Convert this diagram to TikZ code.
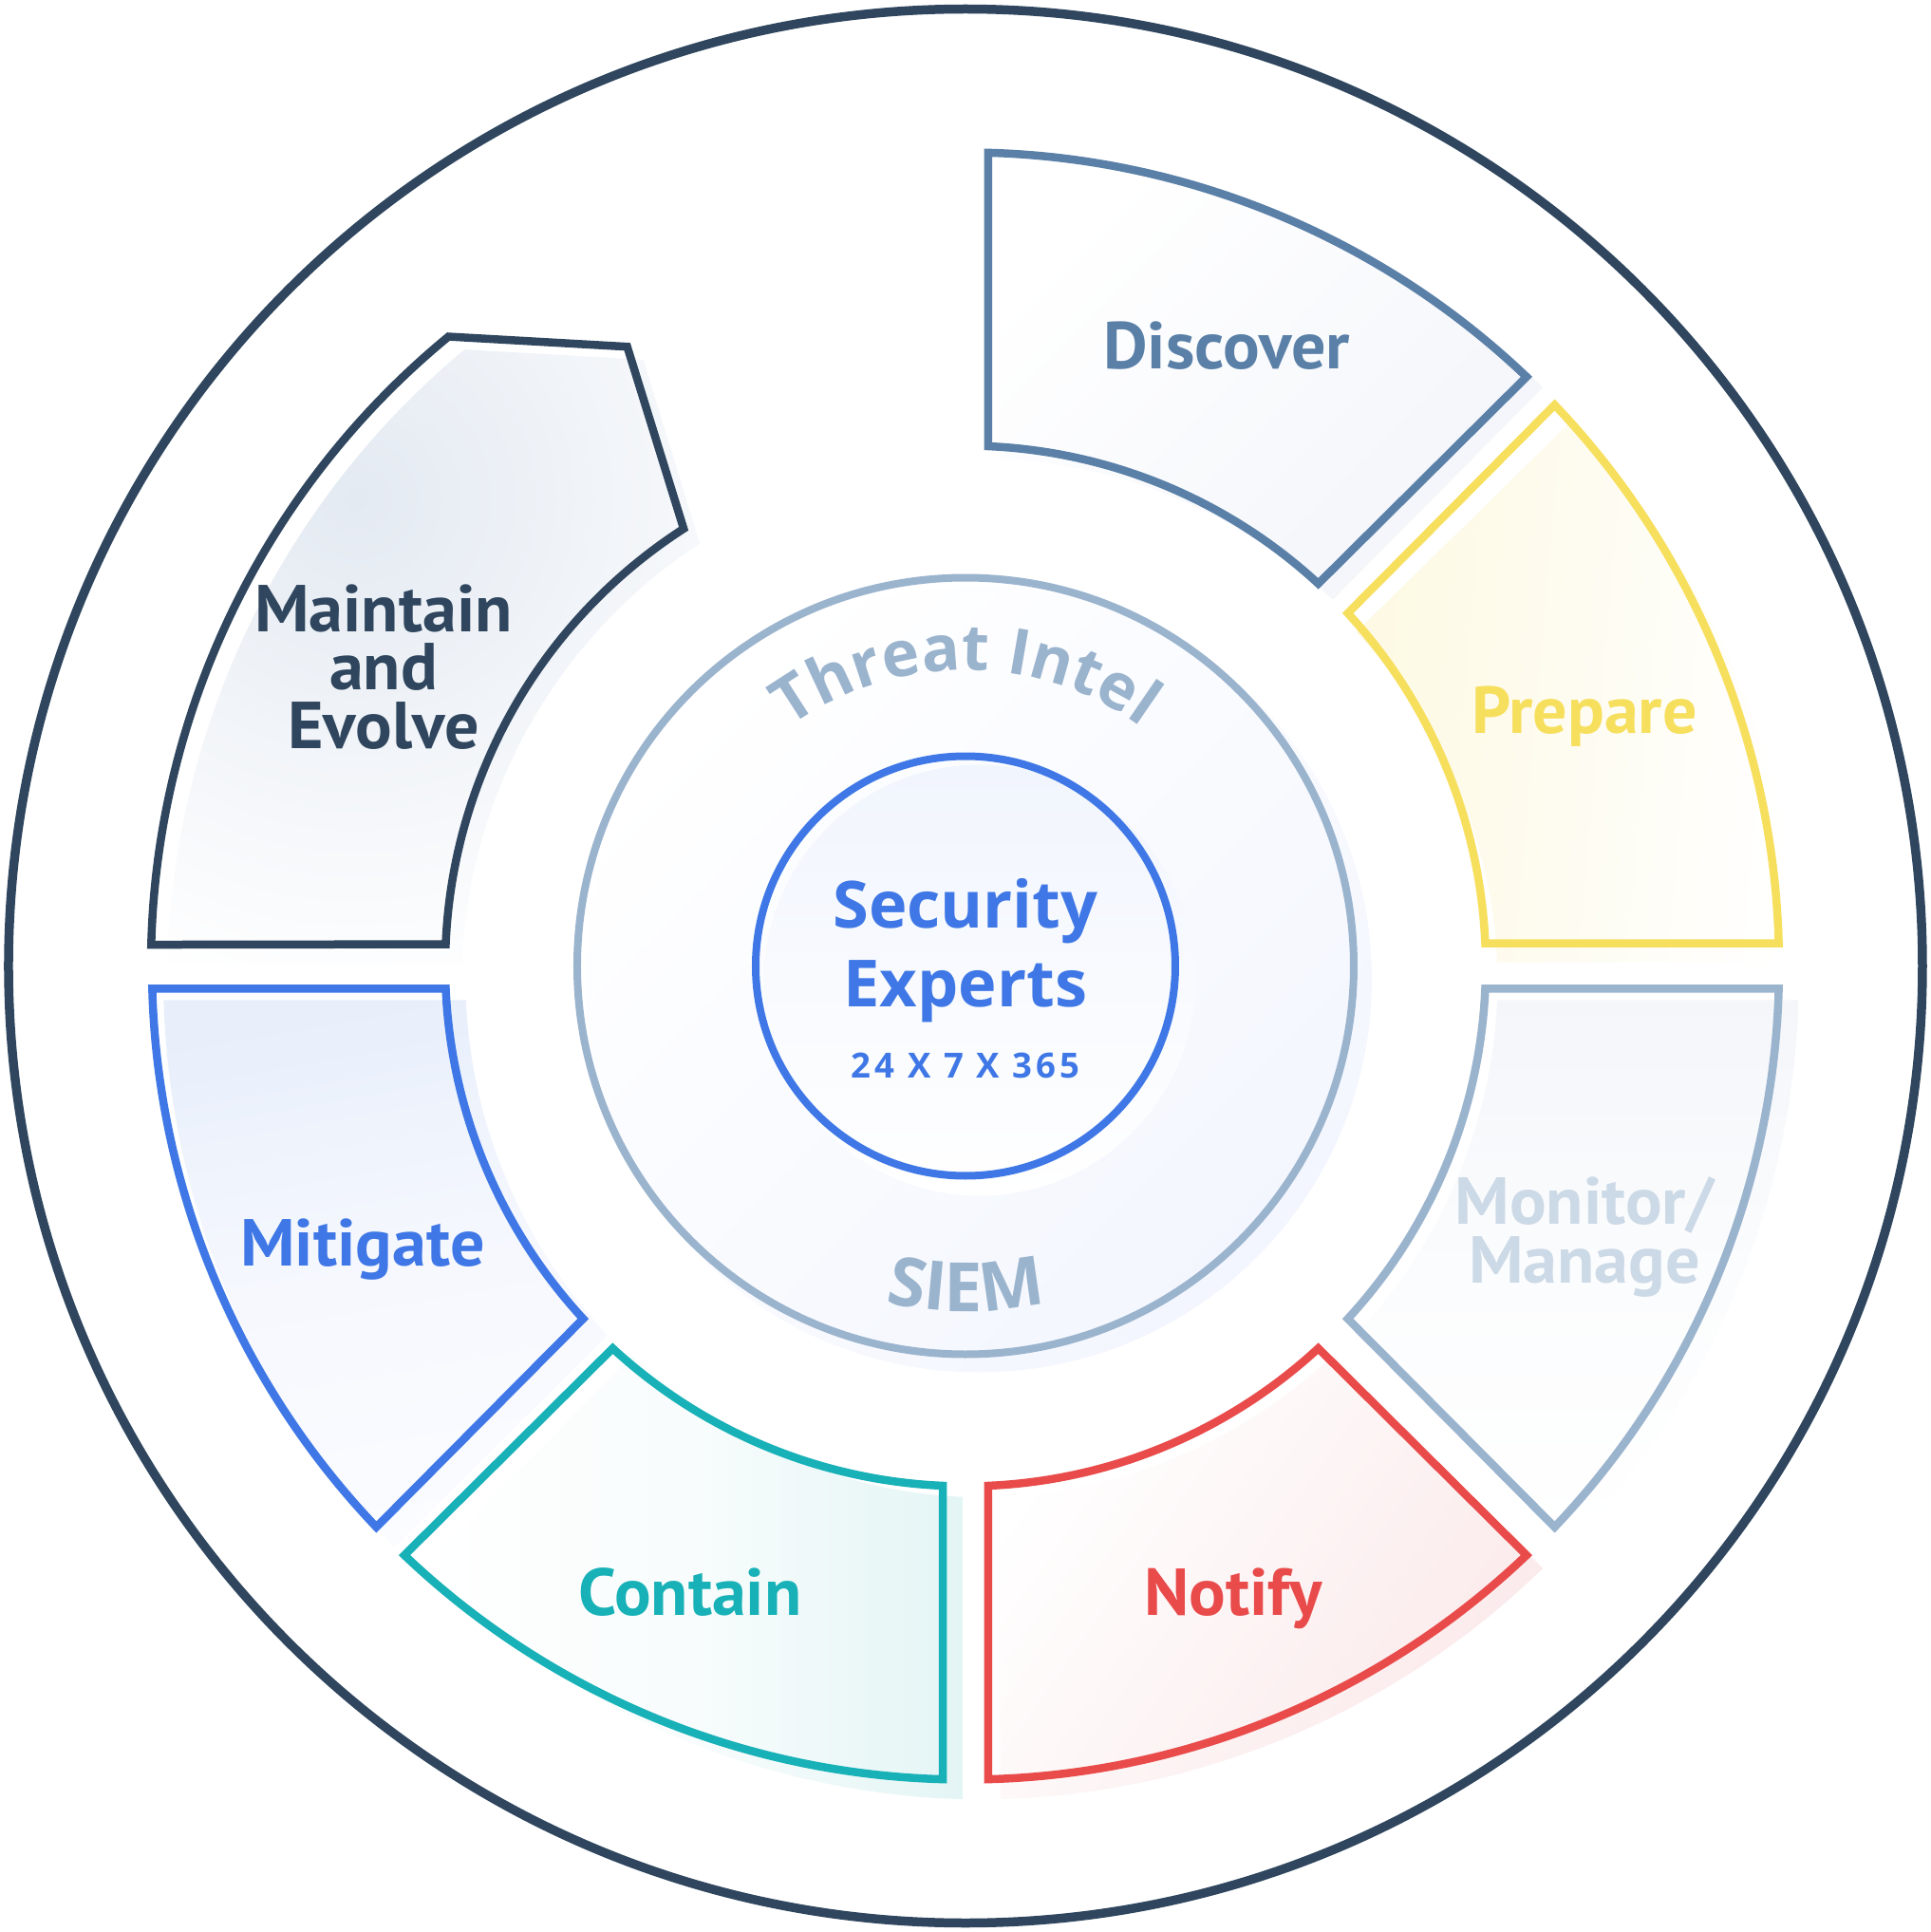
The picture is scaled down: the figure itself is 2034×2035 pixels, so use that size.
\documentclass[tikz,border=0pt]{standalone}
\usepackage{fontspec}
\usetikzlibrary{decorations.text}
\definecolor{Slate}{HTML}{2F465E}
\definecolor{Steel}{HTML}{5A80A8}
\definecolor{Yellow}{HTML}{F7DF5E}
\definecolor{Haze}{HTML}{9BB4CE}
\definecolor{Mist}{HTML}{CCD9E6}
\definecolor{Red}{HTML}{E94B4B}
\definecolor{Teal}{HTML}{17B1B7}
\definecolor{Blue}{HTML}{3F78E6}
\definecolor{SteelTint}{HTML}{F3F5FA}
\definecolor{YellowTint}{HTML}{FDF9E3}
\definecolor{HazeTint}{HTML}{F4F6FA}
\definecolor{HazeMid}{HTML}{FBFCFD}
\definecolor{RedTint}{HTML}{FBE9EA}
\definecolor{TealTint}{HTML}{E4F5F5}
\definecolor{TealMid}{HTML}{F8FCFC}
\definecolor{BlueTint}{HTML}{E8EFFB}
\definecolor{BlueMid}{HTML}{F6F8FE}
\definecolor{BlueFade}{HTML}{FBFCFF}
\definecolor{SlateTint}{HTML}{E4EAF2}
\definecolor{RingTint}{HTML}{F3F6FE}
\definecolor{CoreTint}{HTML}{F1F5FD}
\newfontfamily\stepfont{PT Sans}[FakeStretch=1.03]
\newfontfamily\openfont{Open Sans}
\newfontfamily\spacedfont{Open Sans}[LetterSpace=11]
\def\threat{\openfont\bfseries\fontsize{19.1}{21}\selectfont\color{Haze}}
\def\siem{\openfont\bfseries\fontsize{20.4}{22}\selectfont\color{Haze}}
\def\sector#1#2#3#4#5#6#7{
  \shade[#6, #7] (#1:857) arc[start angle=#1, end angle=#2, radius=857]
    -- (#3:548) arc[start angle=#3, end angle=#4, radius=548] -- cycle;
  \draw[stepLine, #5] (#1:857) arc[start angle=#1, end angle=#2, radius=857]
    -- (#3:548) arc[start angle=#3, end angle=#4, radius=548] -- cycle;
}

\begin{document}
\begin{tikzpicture}[
    x=0.1mm, y=0.1mm,
    stepLine/.style={draw, line width=0.85mm, line join=miter},
    ringLine/.style={line width=0.8mm},
    tinted/.style n args={3}{shading=axis, top color=#1, bottom color=#2, shading angle=#3},
    stepKey/.style={font=\stepfont\bfseries\fontsize{19.9}{17.5}\selectfont, align=center, inner sep=0},
    centerKey/.style={font=\openfont\bfseries\fontsize{19.5}{23.6}\selectfont, text=Blue, align=center, inner sep=0},
  ]
  \useasboundingbox[fill=white] (-1017,-1017.5) rectangle (1017,1017.5);
  % outer ring
  \draw[line width=0.95mm, Slate] (0,0) circle (1008);
  % sectors
  \sector{88.4}{46.4}{47.3}{87.5}{Steel}{tinted={SteelTint}{white}{-135}}{shift={(12.4,-27.3)}, xscale=1.008, yscale=1.026}
  \sector{43.6}{1.6}{2.5}{42.7}{Yellow}{tinted={YellowTint}{white}{85}}{shift={(-1.6,-20)}, xscale=1.026}
  \sector{-1.6}{-43.6}{-42.7}{-2.5}{Haze}{tinted={HazeTint}{white}{0}, middle color=HazeMid}{shift={(-1.6,-11.7)}, xscale=1.026, yscale=1.013}
  \sector{-46.4}{-88.4}{-87.5}{-47.3}{Red}{tinted={RedTint}{white}{-125}}{shift={(12.4,4.7)}, xscale=1.008, yscale=1.03}
  \sector{-91.6}{-133.6}{-132.7}{-92.5}{Teal}{tinted={TealTint}{white}{-90}, middle color=TealMid}{shift={(20.5,4.7)}, yscale=1.03}
  \sector{-136.4}{-178.4}{-177.5}{-137.3}{Blue}{tinted={BlueTint}{BlueFade}{10}, middle color=BlueMid}{shift={(37.7,-11.6)}, xscale=1.03, yscale=1.016}
  % maintain
  \begin{scope}
    \clip[shift={(17,-20.2)}, yscale=1.01] (178.5:858) arc[start angle=178.5, end angle=129.4, radius=858]
      -- (-356.3,652.3) -- (122.8:548) arc[start angle=122.8, end angle=177.6, radius=548] -- cycle;
    \shade[inner color=SlateTint, outer color=white] (-642,493) circle (540);
  \end{scope}
  \draw[stepLine, Slate] (178.5:858) arc[start angle=178.5, end angle=129.4, radius=858]
    -- (-356.3,652.3) -- (122.8:548) arc[start angle=122.8, end angle=177.6, radius=548] -- cycle;
  % inner rings
  \shade[tinted={RingTint}{white}{-135}] (14,-14) circle (414);
  \draw[ringLine, Haze] (0,0) circle (409);
  \shade[tinted={CoreTint}{white}{0}] (15,-15) circle (227);
  \draw[ringLine, Blue] (0,0) circle (221);
  % curved labels
  \path[decorate, decoration={text along path, text align=center,
    text={|\threat|Threat Intel}}] (125:312) arc[start angle=125, end angle=55, radius=312];
  \path[decorate, decoration={text along path, text align=center,
    text={|\siem|SIEM}}] (245:364) arc[start angle=245, end angle=295, radius=364];
  % labels
  \node[stepKey, text=Steel, anchor=base] (discoverL) at (275,629) {Discover};
  \node[stepKey, text=Red, anchor=base] (notifyL) at (282,-683.5) {Notify};
  \node[stepKey, text=Teal, anchor=base] (containL) at (-290,-683.5) {Contain};
  \node[stepKey, text=Yellow, anchor=base] (prepareL) at (652,245) {Prepare};
  \node[stepKey, text=Mist] (monitorL) at (652,-285.5) {Monitor/\\Manage};
  \node[stepKey, text=Blue, anchor=base] (mitigateL) at (-635,-315.7) {Mitigate};
  \node[stepKey, text=Slate] (maintainL) at (-613,315) {Maintain\\and\\Evolve};
  \node[centerKey] (expertsL) at (0,16) {Security\\Experts};
  \node[font=\spacedfont\bfseries\fontsize{10.4}{12}\selectfont, text=Blue, anchor=base, inner sep=0] (hoursL) at (0,-118) {24 X 7 X 365};
\end{tikzpicture}
\end{document}
